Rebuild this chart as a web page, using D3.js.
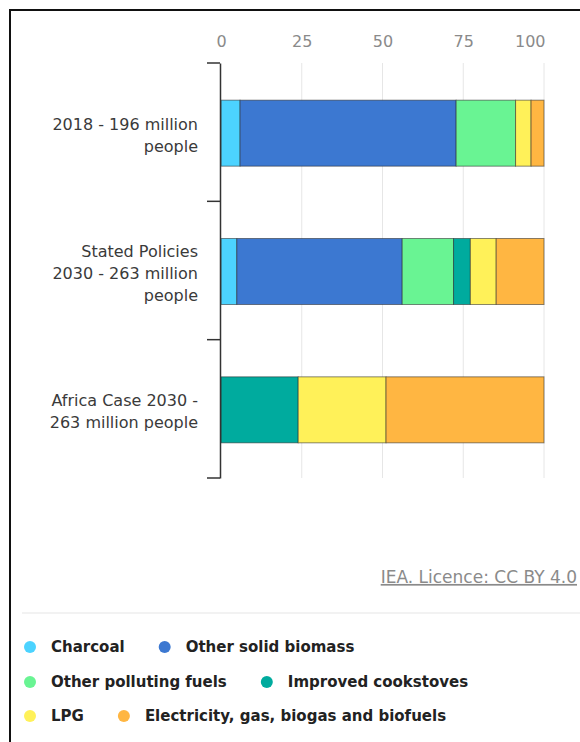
<!DOCTYPE html>
<html>
<head>
<meta charset="utf-8">
<script src="https://cdn.jsdelivr.net/npm/d3@7"></script>
<style>
  html, body { margin: 0; padding: 0; background: #fff; overflow: hidden; }
  svg { display: block; font-family: "DejaVu Sans", sans-serif; }
</style>
</head>
<body>
<div id="chart"></div>
<script>
// ---- data ----
const categories = [
  ["2018 - 196 million", "people"],
  ["Stated Policies", "2030 - 263 million", "people"],
  ["Africa Case 2030 -", "263 million people"]
];
const seriesNames = ["Charcoal", "Other solid biomass", "Other polluting fuels", "Improved cookstoves", "LPG", "Electricity, gas, biogas and biofuels"];
const seriesColors = ["#4cd3ff", "#3c78d1", "#69f493", "#00ab9e", "#fff159", "#ffb642"];
const charcoal = [5.9, 4.9, 0];
const otherSolidBiomass = [66.9, 51.2, 0];
const otherPollutingFuels = [18.4, 15.9, 0];
const improvedCookstoves = [0, 5.2, 23.9];
const lpg = [4.8, 8.0, 27.2];
const electricityGas = [4.0, 14.8, 48.9];
const xTicks = [0, 25, 50, 75, 100];
const sourceText = "IEA. Licence: CC BY 4.0";

const seriesValues = [charcoal, otherSolidBiomass, otherPollutingFuels, improvedCookstoves, lpg, electricityGas];

const W = 580, H = 742;
const svg = d3.select("#chart").append("svg").attr("width", W).attr("height", H);

// frame
svg.append("line").attr("x1", 9).attr("x2", W).attr("y1", 10).attr("y2", 10).attr("stroke", "#111").attr("stroke-width", 2);
svg.append("line").attr("x1", 10).attr("x2", 10).attr("y1", 9).attr("y2", H).attr("stroke", "#111").attr("stroke-width", 2);

const plotLeft = 221, plotRight = 544, plotTop = 63, plotBottom = 478;
const x = d3.scaleLinear().domain([0, 100]).range([plotLeft, plotRight]);
const y = d3.scaleBand().domain(d3.range(categories.length)).range([plotTop, plotBottom]).paddingInner(0).paddingOuter(0);
const barH = 66;

// gridlines
svg.append("g").selectAll("line").data(xTicks.filter(d => d > 0)).join("line")
  .attr("x1", d => x(d)).attr("x2", d => x(d))
  .attr("y1", plotTop).attr("y2", plotBottom)
  .attr("stroke", "#e6e6e6").attr("stroke-width", 1);

// top axis labels
const xAxis = d3.axisTop(x).tickValues(xTicks).tickSize(0).tickPadding(0);
const gx = svg.append("g").attr("transform", `translate(0,${plotTop - 16})`).call(xAxis);
gx.select(".domain").remove();
gx.selectAll("text").attr("fill", "#8a8a8a").attr("font-size", 16).attr("font-family", "DejaVu Sans, sans-serif");
gx.selectAll(".tick").filter(d => d === 100).select("text").attr("text-anchor", "end").attr("x", 1);

// stacked bars
const rows = categories.map((c, i) => {
  const o = { idx: i };
  seriesNames.forEach((s, j) => o[s] = seriesValues[j][i]);
  return o;
});
const stacked = d3.stack().keys(seriesNames)(rows);
const gBars = svg.append("g");
stacked.forEach((layer, j) => {
  gBars.append("g").selectAll("rect").data(layer.filter(d => d[1] - d[0] > 0)).join("rect")
    .attr("x", d => x(d[0]))
    .attr("width", d => x(d[1]) - x(d[0]))
    .attr("y", d => y(d.data.idx) + y.bandwidth() / 2 - barH / 2 + 1)
    .attr("height", barH)
    .attr("fill", seriesColors[j])
    .attr("stroke", "rgba(40,40,40,0.55)")
    .attr("stroke-width", 1);
});

// left axis
const yAxis = d3.axisLeft(y).tickValues([]).tickSize(0);
const gy = svg.append("g").attr("transform", `translate(${plotLeft - 1},0)`).call(yAxis);
gy.select(".domain").attr("stroke", "#333").attr("stroke-width", 1.5);
const boundaries = d3.range(categories.length + 1).map(i => plotTop + i * y.bandwidth());
svg.append("g").selectAll("line").data(boundaries).join("line")
  .attr("x1", plotLeft - 14).attr("x2", plotLeft - 1)
  .attr("y1", d => d).attr("y2", d => d)
  .attr("stroke", "#333").attr("stroke-width", 1.5);

// category labels
const lineH = 22;
categories.forEach((lines, i) => {
  const cy = y(i) + y.bandwidth() / 2 + 3;
  const t = svg.append("text").attr("text-anchor", "end").attr("fill", "#3a3a3a")
    .attr("font-size", 16);
  lines.forEach((ln, k) => {
    t.append("tspan").attr("x", 198)
      .attr("y", cy + (k - (lines.length - 1) / 2) * lineH)
      .attr("dy", "0.35em").text(ln);
  });
});

// source
svg.append("text").attr("x", 577).attr("y", 577).attr("dy", "0.35em")
  .attr("text-anchor", "end").attr("fill", "#8a8a8a").attr("font-size", 17)
  .attr("text-decoration", "underline").text(sourceText);

// separator
svg.append("line").attr("x1", 22).attr("x2", W).attr("y1", 613).attr("y2", 613)
  .attr("stroke", "#eeeeee").attr("stroke-width", 1.5);

// legend
const legendRows = [[0, 1], [2, 3], [4, 5]];
const legendY = [647, 682, 716];
legendRows.forEach((r, ri) => {
  let cx = 30;
  r.forEach(si => {
    const g = svg.append("g");
    g.append("circle").attr("cx", cx).attr("cy", legendY[ri]).attr("r", 6).attr("fill", seriesColors[si]);
    const t = g.append("text").attr("x", cx + 21).attr("y", legendY[ri]).attr("dy", "0.35em")
      .attr("fill", "#222").attr("font-size", 15).attr("font-weight", 700).text(seriesNames[si]);
    cx = cx + 21 + t.node().getComputedTextLength() + 40;
  });
});
</script>
</body>
</html>
